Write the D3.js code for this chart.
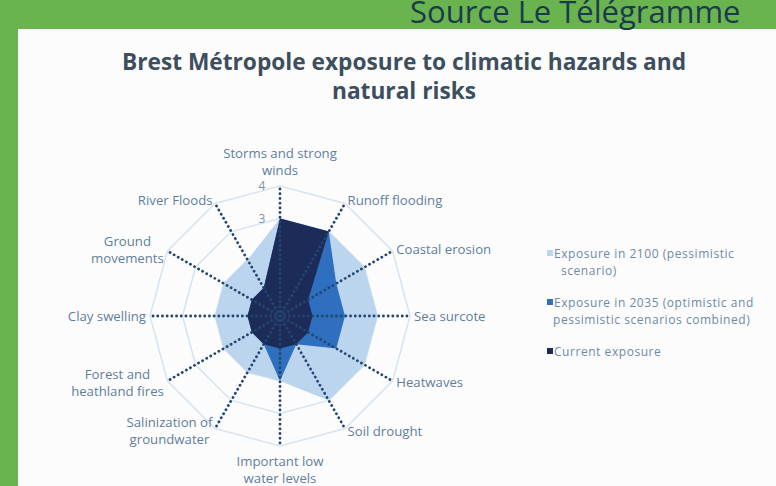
<!DOCTYPE html>
<html><head><meta charset="utf-8">
<script src="https://cdn.jsdelivr.net/npm/d3@7"></script>
<style>
html,body{margin:0;padding:0;background:#6ab44f;}
svg{display:block;}
</style></head>
<body>
<svg id="c" width="776" height="486"></svg>
<script>
// ---- data ----
const categories = [
  "Storms and strong|winds", "Runoff flooding", "Coastal erosion", "Sea surcote",
  "Heatwaves", "Soil drought", "Important low|water levels", "Salinization of|groundwater",
  "Forest and|heathland fires", "Clay swelling", "Ground|movements", "River Floods"
];
const exposure2100 = [3, 3, 3, 3, 3, 3, 2, 2, 2, 2, 2, 2];
const exposure2035 = [3, 3, 2, 2, 2, 1, 2, 1, 1, 1, 1, 1];
const exposureNow  = [3, 3, 1, 1, 1, 1, 1, 1, 1, 1, 1, 1];
const tickValues = [0, 1, 2, 3, 4];
const seriesNames = [
  "Exposure in 2100 (pessimistic|scenario)",
  "Exposure in 2035 (optimistic and|pessimistic scenarios combined)",
  "Current exposure"
];
const seriesColors = ["#bcd5ef", "#2f6fbf", "#1c2b58"];

// ---- layout ----
const svg = d3.select("#c");
const W = 776, H = 486;
const cx = 280, cy = 316, R = 130;
const font = "'Open Sans', 'Noto Sans', sans-serif";

svg.append("rect").attr("x", 0).attr("y", 0).attr("width", W).attr("height", H).attr("fill", "#6ab44f");
svg.append("rect").attr("x", 18).attr("y", 29).attr("width", W - 18).attr("height", H - 29).attr("fill", "#fdfcfc");

const title = svg.append("text").attr("text-anchor", "middle")
  .attr("font-family", font).attr("font-weight", 700).attr("font-size", 22.7).attr("fill", "#3d4e5e");
title.append("tspan").attr("x", 404).attr("y", 70).text("Brest Métropole exposure to climatic hazards and");
title.append("tspan").attr("x", 404).attr("y", 99).text("natural risks");

svg.append("text").attr("x", 410).attr("y", 23)
  .attr("font-family", font).attr("font-size", 31).attr("fill", "#1b3a4c")
  .text("Source Le Télégramme");

const rScale = d3.scaleLinear().domain([0, 4]).range([0, R]);
const aScale = d3.scaleLinear().domain([0, categories.length]).range([0, 2 * Math.PI]);
const g = svg.append("g").attr("transform", `translate(${cx},${cy})`);

// grid rings
const ring = d3.lineRadial().curve(d3.curveLinearClosed);
tickValues.slice(1).forEach(t => {
  g.append("path")
    .attr("d", ring(categories.map((c, i) => [aScale(i), rScale(t)])))
    .attr("fill", "none").attr("stroke", "#d6e4f1").attr("stroke-width", 1.5);
});

// tick labels
tickValues.forEach(t => {
  g.append("text").attr("x", -18).attr("y", -rScale(t) + 4)
    .attr("text-anchor", "middle").attr("font-family", font).attr("font-size", 12)
    .attr("fill", "#7e93a9").text(t);
});

// series areas
const area = d3.lineRadial().curve(d3.curveLinearClosed);
[exposure2100, exposure2035, exposureNow].forEach((vals, k) => {
  g.append("path")
    .attr("d", area(vals.map((v, i) => [aScale(i), rScale(v)])))
    .attr("fill", seriesColors[k]).attr("stroke", "none");
});

// axes (dotted)
categories.forEach((c, i) => {
  const a = aScale(i);
  g.append("line").attr("x1", 0).attr("y1", 0)
    .attr("x2", rScale(4) * Math.sin(a)).attr("y2", -rScale(4) * Math.cos(a))
    .attr("stroke", "#23466f").attr("stroke-width", 2.8)
    .attr("stroke-linecap", "round").attr("stroke-dasharray", "0.1 4.6");
});
g.append("circle").attr("r", 9).attr("fill", "none").attr("stroke", "#2a3f6a").attr("stroke-width", 1.2).attr("opacity", 0.7);

// axis labels
const lh = 17;
const labelSize = 13.2;
categories.forEach((c, i) => {
  const a = aScale(i);
  const s = Math.sin(a), co = Math.cos(a);
  const lines = c.split("|");
  const px = (R + 3) * s, py = -(R + 3) * co;
  const t = g.append("text").attr("font-family", font).attr("font-size", labelSize)
    .attr("fill", "#5f7e9c");
  let anchor = Math.abs(s) < 0.1 ? "middle" : (s > 0 ? "start" : "end");
  let y0;
  if (Math.abs(s) < 0.1) {
    y0 = co > 0 ? py - 8 - (lines.length - 1) * lh : py + 17;
  } else {
    y0 = py + 4.5 - (lines.length - 1) * lh / 2;
  }
  const spans = lines.map((l, j) => t.append("tspan").attr("y", y0 + j * lh).text(l));
  if (anchor === "end" && lines.length > 1) {
    const bw = d3.max(spans, sp => sp.node().getComputedTextLength());
    t.attr("text-anchor", "middle");
    spans.forEach(sp => sp.attr("x", px - 1 - bw / 2));
  } else {
    t.attr("text-anchor", anchor);
    spans.forEach(sp => sp.attr("x", px + (anchor === "start" ? 1 : anchor === "end" ? -1 : 0)));
  }
});

// legend
const legY = [258, 307, 356];
seriesNames.forEach((n, k) => {
  svg.append("rect").attr("x", 547).attr("y", legY[k] - 8).attr("width", 6).attr("height", 6)
    .attr("fill", seriesColors[k]);
  const t = svg.append("text").attr("font-family", font).attr("font-size", 12)
    .attr("letter-spacing", 0.55).attr("fill", "#6c8aa8");
  n.split("|").forEach((l, j) => {
    t.append("tspan").attr("x", j === 0 ? 554 : (k === 0 ? 561 : 553)).attr("y", legY[k] + j * 16.5).text(l);
  });
});
</script>
</body></html>
